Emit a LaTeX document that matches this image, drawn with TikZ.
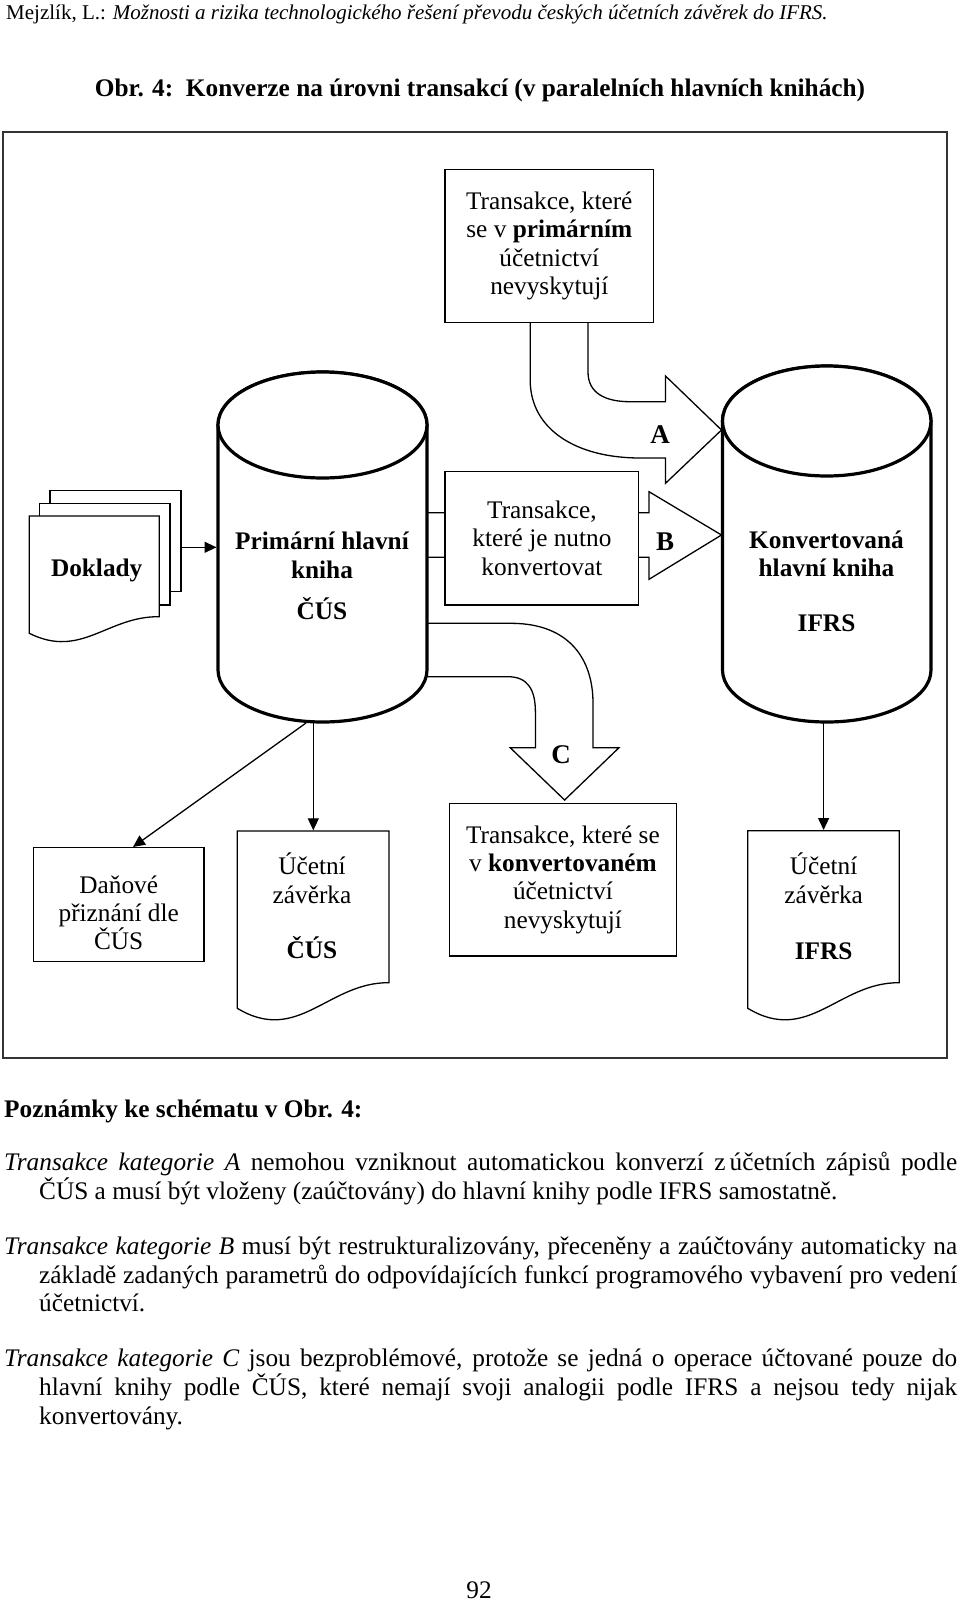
\documentclass[tikz,border=0pt]{standalone}
\usepackage{fontspec}
\setmainfont{Liberation Serif}
\usetikzlibrary{arrows.meta}
\newcommand\dgfont{\fontsize{25.3pt}{28.4pt}\selectfont}
\newcommand\lblfont{\fontsize{27pt}{30pt}\selectfont\bfseries}
\newcommand\bodyfont{\fontsize{25.3pt}{28.6pt}\selectfont}
\newcommand\hdrfont{\fontsize{21pt}{24pt}\selectfont}
\begin{document}
\begin{tikzpicture}[x=1pt,y=-1pt,
  box/.style={draw, line width=1.3pt, fill=white, inner sep=0pt},
  cyl/.style={draw, line width=3.2pt, fill=white},
  blk/.style={draw, line width=1.3pt, fill=white, line join=miter},
  conn/.style={line width=1.3pt, -{Triangle[length=12pt,width=11pt]}},
  txt/.style={font=\dgfont, align=center, inner sep=0pt},
  lbl/.style={font=\lblfont, inner sep=0pt, anchor=base},
  bline/.style={font=\bodyfont, inner sep=0pt, anchor=base west},
  frame/.style={draw=black!80, line width=2.4pt}
]
\useasboundingbox (0,0) rectangle (960,1601);

% header and title
\node[font=\hdrfont, inner sep=0pt, anchor=base west] (hdr) at (6,19)
  {Mejzlík, L.: \textit{Možnosti a rizika technologického řešení převodu českých účetních závěrek do IFRS.}};
\node[font=\fontsize{25.3pt}{28pt}\selectfont\bfseries, inner sep=0pt, anchor=base] (title) at (480,96)
  {Obr. 4:\ \ Konverze na úrovni transakcí (v paralelních hlavních knihách)};

% frame
\draw[frame] (3,132) rectangle (947,1058);

% block arrow A
\draw[blk] (588,300) -- (588,372) .. controls (588,393) and (605,401.7) .. (630,401.7)
  -- (665.5,401.7) -- (665.5,376) -- (721.5,430) -- (665.5,483.3) -- (665.5,458) -- (640,458)
  .. controls (577,458) and (530.2,430) .. (530.2,380) -- (530.2,300) -- cycle;
% block arrow B
\draw[blk] (400,512.7) -- (649,512.7) -- (649,491.7) -- (721.5,535) -- (649,579.3)
  -- (649,557.3) -- (400,557.3) -- cycle;
% block arrow C
\draw[blk] (400,623.3) -- (511,623.3) .. controls (570,623.3) and (593,660) .. (593,703)
  -- (593,747.7) -- (619,747.7) -- (564.6,800) -- (510.2,747.7) -- (535.4,747.7)
  -- (535.4,712) .. controls (535.4,690) and (528,676.7) .. (508,676.7) -- (400,676.7) -- cycle;

% left cylinder (primary ledger)
\draw[cyl] (218,425) -- (218,670) arc[start angle=180,end angle=360,x radius=104.5pt,y radius=52pt]
  -- (427,425) arc[start angle=0,end angle=180,x radius=104.5pt,y radius=53pt] -- cycle;
\draw[cyl] (322.5,425) ellipse[x radius=104.5pt,y radius=53pt];
% right cylinder (converted ledger)
\draw[cyl] (722.5,421) -- (722.5,670) arc[start angle=180,end angle=360,x radius=104.25pt,y radius=52pt]
  -- (931,421) arc[start angle=0,end angle=180,x radius=104.25pt,y radius=55pt] -- cycle;
\draw[cyl] (826.75,421) ellipse[x radius=104.25pt,y radius=55pt];

% boxes
\node[box, txt, minimum width=208.4pt, minimum height=153pt] (topbox) at (549.3,246)
  {Transakce, které\\se v \textbf{primárním}\\účetnictví\\nevyskytují};
\node[box, txt, minimum width=193.6pt, minimum height=133.3pt] (midbox) at (541.9,538.3)
  {Transakce,\\které je nutno\\konvertovat};
\node[box, txt, minimum width=227.2pt, minimum height=152.7pt] (botbox) at (562.9,879.7)
  {Transakce, které se\\v \textbf{konvertovaném}\\účetnictví\\nevyskytují};
\node[box, minimum width=170.7pt, minimum height=114pt] (danbox) at (118.7,904.7) {};
\node[txt] (dantext) at (118.7,912.9) {Daňové\\přiznání dle\\ČÚS};

% Doklady (stack of documents)
\draw[box] (50,490.7) rectangle (181,591.7);
\draw[box] (39.3,503.3) rectangle (170,605);
\draw[box] (29.3,516) -- (159.3,516) -- (159.3,616.7)
  .. controls (107.3,616) and (81.3,659.3) .. (29.3,633.3) -- cycle;
\node[lbl, font=\dgfont\bfseries] (dok) at (96.7,576.5) {Doklady};

% documents Účetní závěrka
\draw[box] (237.3,831) -- (389,831) -- (389,982.7)
  .. controls (328.3,982) and (298,1045) .. (237.3,1008.3) -- cycle;
\draw[box] (747.8,830.7) -- (899.3,830.7) -- (899.3,982.7)
  .. controls (838.7,982) and (808.4,1045) .. (747.8,1008.3) -- cycle;
\node[txt] (uzcus) at (312,878.1) {Účetní\\závěrka};
\node[lbl, font=\dgfont\bfseries] (uzcus2) at (312,958.2) {ČÚS};
\node[txt] (uzifrs) at (823.6,878.1) {Účetní\\závěrka};
\node[lbl, font=\dgfont\bfseries] (uzifrs2) at (823.6,959.9) {IFRS};

% cylinder texts
\node[txt, font=\dgfont\bfseries] (lctext) at (322,555.4) {Primární hlavní\\kniha};
\node[lbl, font=\dgfont\bfseries] (lctext2) at (322,619.9) {ČÚS};
\node[txt, font=\dgfont\bfseries] (rctext) at (826.5,553.6) {Konvertovaná\\hlavní kniha};
\node[lbl, font=\dgfont\bfseries] (rctext2) at (826.5,631.5) {IFRS};

% block-arrow labels
\node[lbl] (labA) at (660,443.9) {A};
\node[lbl] (labB) at (665.2,550.6) {B};
\node[lbl] (labC) at (561.2,763.9) {C};

% connector end points
\coordinate (dokout) at (181,547.3);
\coordinate (lcin) at (216.5,547.3);
\coordinate (lcbotA) at (306,723);
\coordinate (lcbotB) at (313.3,723);
\coordinate (rcbot) at (823.6,723);
\coordinate (uzcustop) at (313.3,830.3);
\coordinate (uzifrstop) at (823.6,830);
\coordinate (dantop) at (133,847);

\draw[conn] (dokout) -- (lcin);
\draw[conn] (lcbotA) -- (dantop);
\draw[conn] (lcbotB) -- (uzcustop);
\draw[conn] (rcbot) -- (uzifrstop);

% notes
\node[bline, font=\bodyfont\bfseries] (notes) at (4,1117) {Poznámky ke schématu v Obr. 4:};
\node[bline] (a1) at (4,1170) {\makebox[953pt][s]{\textit{Transakce kategorie A} nemohou vzniknout automatickou konverzí z\kern4pt účetních zápisů podle}};
\node[bline] (a2) at (39,1199) {ČÚS a musí být vloženy (zaúčtovány) do hlavní knihy podle IFRS samostatně.};
\node[bline] (b1) at (4,1254) {\makebox[953pt][s]{\textit{Transakce kategorie B} musí být restrukturalizovány, přeceněny a zaúčtovány automaticky na}};
\node[bline] (b2) at (39,1283) {\makebox[918pt][s]{základě zadaných parametrů do odpovídajících funkcí programového vybavení pro vedení}};
\node[bline] (b3) at (39,1311) {účetnictví.};
\node[bline] (c1) at (4,1366) {\makebox[953pt][s]{\textit{Transakce kategorie C} jsou bezproblémové, protože se jedná o operace účtované pouze do}};
\node[bline] (c2) at (39,1395) {\makebox[918pt][s]{hlavní knihy podle ČÚS, které nemají svoji analogii podle IFRS a nejsou tedy nijak}};
\node[bline] (c3) at (39,1424) {konvertovány.};
\node[font=\bodyfont, inner sep=0pt, anchor=base] (pg) at (479,1598) {92};
\end{tikzpicture}
\end{document}
